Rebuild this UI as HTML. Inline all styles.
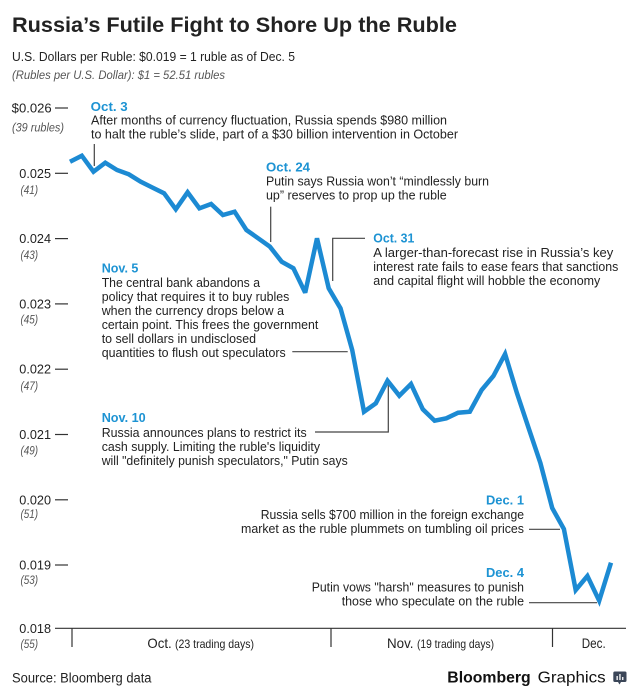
<!DOCTYPE html>
<html>
<head>
<meta charset="utf-8">
<style>
  html,body{margin:0;padding:0;background:#fff;}
  svg{display:block;}
  text{font-family:"Liberation Sans", Arial, sans-serif;}
  .t{fill:#222;font-size:12.5px;}
  .h{fill:#1d93d3;font-size:13px;font-weight:bold;}
  .g{fill:#555;font-size:12px;font-style:italic;}
  .tick{fill:#222;font-size:12.5px;}
</style>
</head>
<body>
<svg width="640" height="700" viewBox="0 0 640 700" xmlns="http://www.w3.org/2000/svg">
  <rect width="640" height="700" fill="#fff"/>

  <!-- Title -->
  <text x="12" y="32" style="font-size:21.7px;font-weight:bold;fill:#222" textLength="445" lengthAdjust="spacingAndGlyphs">Russia’s Futile Fight to Shore Up the Ruble</text>
  <text x="12" y="61" style="font-size:13px;fill:#222" textLength="283" lengthAdjust="spacingAndGlyphs">U.S. Dollars per Ruble: $0.019 = 1 ruble as of Dec. 5</text>
  <text x="12" y="79" class="g" textLength="213" lengthAdjust="spacingAndGlyphs">(Rubles per U.S. Dollar): $1 = 52.51 rubles</text>

  <!-- Y axis labels -->
  <g stroke="#333" stroke-width="1.2">
    <line x1="55" y1="108" x2="68" y2="108"/>
    <line x1="55" y1="173.3" x2="68" y2="173.3"/>
    <line x1="55" y1="238.6" x2="68" y2="238.6"/>
    <line x1="55" y1="303.9" x2="68" y2="303.9"/>
    <line x1="55" y1="369.2" x2="68" y2="369.2"/>
    <line x1="55" y1="434.5" x2="68" y2="434.5"/>
    <line x1="55" y1="499.8" x2="68" y2="499.8"/>
    <line x1="55" y1="565" x2="68" y2="565"/>
  </g>
  <text x="11.7" y="112.5" class="tick" textLength="40" lengthAdjust="spacingAndGlyphs">$0.026</text>
  <text x="12" y="131.5" class="g" textLength="52" lengthAdjust="spacingAndGlyphs">(39 rubles)</text>

  <text x="19.3" y="177.8" class="tick" textLength="31.7" lengthAdjust="spacingAndGlyphs">0.025</text>
  <text x="20.5" y="194" class="g" textLength="17.6" lengthAdjust="spacingAndGlyphs">(41)</text>

  <text x="19.3" y="243.1" class="tick" textLength="31.7" lengthAdjust="spacingAndGlyphs">0.024</text>
  <text x="20.5" y="259" class="g" textLength="17.6" lengthAdjust="spacingAndGlyphs">(43)</text>

  <text x="19.3" y="308.4" class="tick" textLength="31.7" lengthAdjust="spacingAndGlyphs">0.023</text>
  <text x="20.5" y="323.5" class="g" textLength="17.6" lengthAdjust="spacingAndGlyphs">(45)</text>

  <text x="19.3" y="373.7" class="tick" textLength="31.7" lengthAdjust="spacingAndGlyphs">0.022</text>
  <text x="20.5" y="390" class="g" textLength="17.6" lengthAdjust="spacingAndGlyphs">(47)</text>

  <text x="19.3" y="439" class="tick" textLength="31.7" lengthAdjust="spacingAndGlyphs">0.021</text>
  <text x="20.5" y="454.5" class="g" textLength="17.6" lengthAdjust="spacingAndGlyphs">(49)</text>

  <text x="19.3" y="504.3" class="tick" textLength="31.7" lengthAdjust="spacingAndGlyphs">0.020</text>
  <text x="20.5" y="518" class="g" textLength="17.6" lengthAdjust="spacingAndGlyphs">(51)</text>

  <text x="19.3" y="569.5" class="tick" textLength="31.7" lengthAdjust="spacingAndGlyphs">0.019</text>
  <text x="20.5" y="584" class="g" textLength="17.6" lengthAdjust="spacingAndGlyphs">(53)</text>

  <text x="19.3" y="632.8" class="tick" textLength="31.7" lengthAdjust="spacingAndGlyphs">0.018</text>
  <text x="20.5" y="648" class="g" textLength="17.6" lengthAdjust="spacingAndGlyphs">(55)</text>

  <!-- X axis -->
  <g stroke="#333" stroke-width="1.2">
    <line x1="55" y1="628.3" x2="626" y2="628.3"/>
    <line x1="72" y1="628.3" x2="72" y2="647"/>
    <line x1="331" y1="628.3" x2="331" y2="647"/>
    <line x1="552.5" y1="628.3" x2="552.5" y2="647"/>
  </g>
  <text x="147.4" y="648" style="font-size:14px;fill:#222" textLength="24.3" lengthAdjust="spacingAndGlyphs">Oct.</text>
  <text x="175" y="648" style="font-size:12px;fill:#222" textLength="79" lengthAdjust="spacingAndGlyphs">(23 trading days)</text>
  <text x="387" y="648" style="font-size:14px;fill:#222" textLength="26.5" lengthAdjust="spacingAndGlyphs">Nov.</text>
  <text x="417" y="648" style="font-size:12px;fill:#222" textLength="77" lengthAdjust="spacingAndGlyphs">(19 trading days)</text>
  <text x="581.7" y="648" style="font-size:14px;fill:#222" textLength="24" lengthAdjust="spacingAndGlyphs">Dec.</text>

  <!-- Leader lines -->
  <g stroke="#444" stroke-width="1.2" fill="none">
    <line x1="94.3" y1="144" x2="94.3" y2="166"/>
    <line x1="270.7" y1="206.7" x2="270.7" y2="242"/>
    <polyline points="365,238.3 332.7,238.3 332.7,281"/>
    <line x1="292.3" y1="351.7" x2="347.7" y2="351.7"/>
    <polyline points="315,432 388.3,432 388.3,385"/>
    <line x1="529" y1="529.3" x2="560" y2="529.3"/>
    <line x1="529" y1="602.7" x2="597" y2="602.7"/>
  </g>

  <!-- Data line -->
  <polyline fill="none" stroke="#1c8ad3" stroke-width="4.5" stroke-linejoin="miter" stroke-miterlimit="3" stroke-linecap="butt"
    points="70.0,161.7 81.8,155.7 93.5,171.7 105.3,162.7 117.0,170 128.8,174.3 140.6,181.7 152.3,187.5 164.1,193.3 175.8,209.3 187.6,192.3 199.4,208.3 211.1,204 222.9,215 234.6,211.7 246.4,230 258.2,238.3 269.9,246.7 281.7,261.7 293.4,268.3 305.2,292.7 317.0,238.3 328.7,288.3 340.5,308.3 352.2,350 364.0,411.7 375.8,403.3 387.5,380.7 399.3,395.7 411.0,384 422.8,409.3 434.6,420.7 446.3,418.3 458.1,412.7 469.8,411.7 481.6,390 493.4,376 505.1,354 516.9,393 528.6,428 540.4,463 552.2,508 563.9,529 575.7,590 587.4,576 599.2,600.7 611.0,562.7"/>

  <!-- Oct. 3 -->
  <text x="90.7" y="111" class="h" textLength="37" lengthAdjust="spacingAndGlyphs">Oct. 3</text>
  <text x="91" y="124.5" class="t" textLength="356" lengthAdjust="spacingAndGlyphs">After months of currency fluctuation, Russia spends $980 million</text>
  <text x="91" y="138.5" class="t" textLength="367" lengthAdjust="spacingAndGlyphs">to halt the ruble’s slide, part of a $30 billion intervention in October</text>

  <!-- Oct. 24 -->
  <text x="266" y="171.7" class="h" textLength="44" lengthAdjust="spacingAndGlyphs">Oct. 24</text>
  <text x="266" y="185.7" class="t" textLength="223" lengthAdjust="spacingAndGlyphs">Putin says Russia won’t “mindlessly burn</text>
  <text x="266" y="199.7" class="t" textLength="180.7" lengthAdjust="spacingAndGlyphs">up” reserves to prop up the ruble</text>

  <!-- Oct. 31 -->
  <text x="373.3" y="242.5" class="h" textLength="41" lengthAdjust="spacingAndGlyphs">Oct. 31</text>
  <text x="373.3" y="257" class="t" textLength="240" lengthAdjust="spacingAndGlyphs">A larger-than-forecast rise in Russia’s key</text>
  <text x="373.3" y="271" class="t" textLength="245" lengthAdjust="spacingAndGlyphs">interest rate fails to ease fears that sanctions</text>
  <text x="373.3" y="285" class="t" textLength="227" lengthAdjust="spacingAndGlyphs">and capital flight will hobble the economy</text>

  <!-- Nov. 5 -->
  <text x="101.7" y="272.5" class="h" textLength="36.7" lengthAdjust="spacingAndGlyphs">Nov. 5</text>
  <text x="101.7" y="287" class="t" textLength="158.3" lengthAdjust="spacingAndGlyphs">The central bank abandons a</text>
  <text x="101.7" y="301" class="t" textLength="187.6" lengthAdjust="spacingAndGlyphs">policy that requires it to buy rubles</text>
  <text x="101.7" y="315" class="t" textLength="182.3" lengthAdjust="spacingAndGlyphs">when the currency drops below a</text>
  <text x="101.7" y="329" class="t" textLength="216.6" lengthAdjust="spacingAndGlyphs">certain point. This frees the government</text>
  <text x="101.7" y="343" class="t" textLength="154.3" lengthAdjust="spacingAndGlyphs">to sell dollars in undisclosed</text>
  <text x="101.7" y="357" class="t" textLength="184" lengthAdjust="spacingAndGlyphs">quantities to flush out speculators</text>

  <!-- Nov. 10 -->
  <text x="101.7" y="422" class="h" textLength="44" lengthAdjust="spacingAndGlyphs">Nov. 10</text>
  <text x="101.7" y="437" class="t" textLength="205" lengthAdjust="spacingAndGlyphs">Russia announces plans to restrict its</text>
  <text x="101.7" y="451" class="t" textLength="218.3" lengthAdjust="spacingAndGlyphs">cash supply. Limiting the ruble's liquidity</text>
  <text x="101.7" y="465" class="t" textLength="246" lengthAdjust="spacingAndGlyphs">will "definitely punish speculators," Putin says</text>

  <!-- Dec. 1 -->
  <text x="486" y="504.5" class="h" textLength="38" lengthAdjust="spacingAndGlyphs">Dec. 1</text>
  <text x="260.7" y="519" class="t" textLength="263.3" lengthAdjust="spacingAndGlyphs">Russia sells $700 million in the foreign exchange</text>
  <text x="241" y="533" class="t" textLength="283" lengthAdjust="spacingAndGlyphs">market as the ruble plummets on tumbling oil prices</text>

  <!-- Dec. 4 -->
  <text x="486" y="577" class="h" textLength="38" lengthAdjust="spacingAndGlyphs">Dec. 4</text>
  <text x="311.7" y="591.5" class="t" textLength="212.3" lengthAdjust="spacingAndGlyphs">Putin vows "harsh" measures to punish</text>
  <text x="341.7" y="605.5" class="t" textLength="182.3" lengthAdjust="spacingAndGlyphs">those who speculate on the ruble</text>

  <!-- Footer -->
  <text x="12" y="682.5" style="font-size:13.5px;fill:#222" textLength="139.5" lengthAdjust="spacingAndGlyphs">Source: Bloomberg data</text>
  <text x="447.3" y="682.7" style="font-size:16px;font-weight:bold;fill:#111" textLength="83.4" lengthAdjust="spacingAndGlyphs">Bloomberg</text>
  <text x="537.7" y="682.7" style="font-size:16px;fill:#111" textLength="68" lengthAdjust="spacingAndGlyphs">Graphics</text>
  <g>
    <rect x="613.3" y="671.5" width="13.2" height="10.5" rx="1.5" fill="#3b4658"/>
    <polygon points="618,682 621,682 619.5,684.5" fill="#3b4658"/>
    <rect x="616.5" y="676" width="1.3" height="4" fill="#fff"/>
    <rect x="619.3" y="674" width="1.3" height="6" fill="#fff"/>
    <rect x="622.1" y="677" width="1.3" height="3" fill="#fff"/>
  </g>
</svg>
</body>
</html>
